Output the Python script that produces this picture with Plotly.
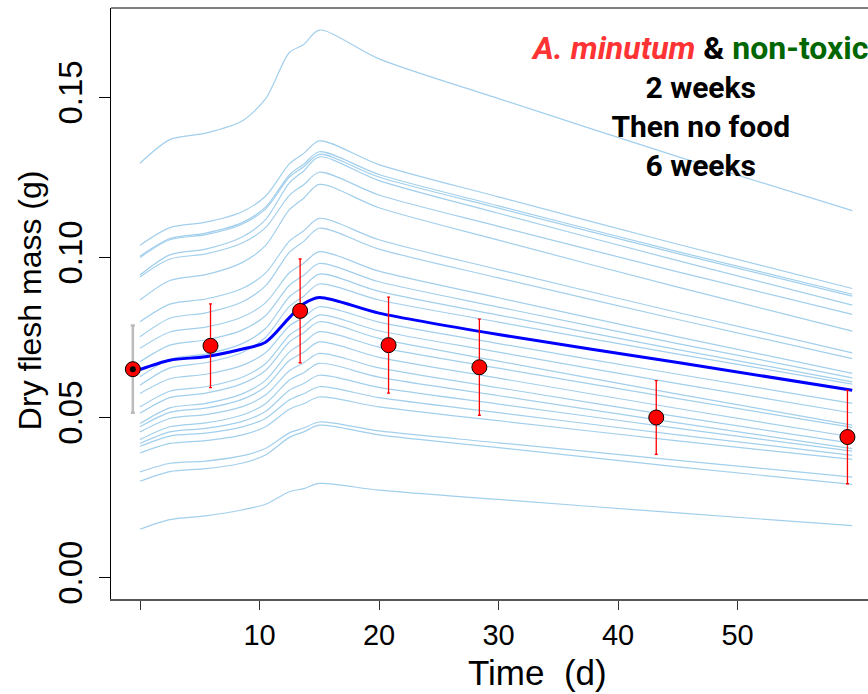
import plotly.graph_objects as go

# ---------------- data ----------------
t_knots = [0, 2.5, 5.5, 8.5, 10.5, 12.5, 13.7, 15, 20, 30, 45, 59.6]

ind01 = [0.1294, 0.1368, 0.1388, 0.1425, 0.1495, 0.1640, 0.1665, 0.1710, 0.1620, 0.1496, 0.1315, 0.1146]
ind02 = [0.1038, 0.1093, 0.1110, 0.1142, 0.1191, 0.1292, 0.1325, 0.1364, 0.1290, 0.1189, 0.1041, 0.0903]
ind03 = [0.1004, 0.1059, 0.1076, 0.1108, 0.1157, 0.1258, 0.1291, 0.1330, 0.1259, 0.1161, 0.1018, 0.0885]
ind04 = [0.1000, 0.1055, 0.1071, 0.1103, 0.1151, 0.1251, 0.1283, 0.1322, 0.1251, 0.1154, 0.1012, 0.0879]
ind05 = [0.0945, 0.1008, 0.1026, 0.1063, 0.1118, 0.1233, 0.1270, 0.1314, 0.1240, 0.1138, 0.0990, 0.0851]
ind06 = [0.0939, 0.0995, 0.1011, 0.1044, 0.1093, 0.1194, 0.1227, 0.1266, 0.1195, 0.1097, 0.0955, 0.0822]
ind07 = [0.0867, 0.0928, 0.0946, 0.0983, 0.1037, 0.1149, 0.1185, 0.1228, 0.1155, 0.1054, 0.0907, 0.0770]
ind08 = [0.0799, 0.0854, 0.0870, 0.0902, 0.0951, 0.1051, 0.1083, 0.1122, 0.1055, 0.0962, 0.0828, 0.0702]
ind09 = [0.0752, 0.0810, 0.0827, 0.0860, 0.0911, 0.1016, 0.1050, 0.1091, 0.1026, 0.0936, 0.0806, 0.0684]
ind10 = [0.0716, 0.0767, 0.0782, 0.0813, 0.0858, 0.0952, 0.0982, 0.1018, 0.0957, 0.0874, 0.0752, 0.0638]
ind11 = [0.0674, 0.0726, 0.0742, 0.0772, 0.0818, 0.0913, 0.0944, 0.0981, 0.0924, 0.0845, 0.0731, 0.0624]
ind12 = [0.0627, 0.0682, 0.0698, 0.0730, 0.0778, 0.0877, 0.0909, 0.0948, 0.0894, 0.0820, 0.0712, 0.0611]
ind13 = [0.0601, 0.0655, 0.0671, 0.0702, 0.0750, 0.0847, 0.0879, 0.0917, 0.0867, 0.0798, 0.0698, 0.0604]
ind14 = [0.0575, 0.0621, 0.0635, 0.0662, 0.0702, 0.0786, 0.0813, 0.0846, 0.0798, 0.0731, 0.0635, 0.0544]
ind15 = [0.0533, 0.0582, 0.0596, 0.0625, 0.0668, 0.0757, 0.0786, 0.0820, 0.0771, 0.0704, 0.0606, 0.0514]
ind16 = [0.0513, 0.0562, 0.0576, 0.0605, 0.0647, 0.0736, 0.0765, 0.0799, 0.0747, 0.0676, 0.0573, 0.0476]
ind17 = [0.0481, 0.0530, 0.0544, 0.0573, 0.0616, 0.0705, 0.0734, 0.0768, 0.0720, 0.0654, 0.0559, 0.0469]
ind18 = [0.0471, 0.0516, 0.0529, 0.0556, 0.0596, 0.0678, 0.0704, 0.0736, 0.0688, 0.0623, 0.0528, 0.0439]
ind19 = [0.0455, 0.0497, 0.0509, 0.0533, 0.0570, 0.0646, 0.0671, 0.0700, 0.0655, 0.0593, 0.0503, 0.0419]
ind20 = [0.0431, 0.0471, 0.0483, 0.0507, 0.0543, 0.0617, 0.0640, 0.0669, 0.0626, 0.0568, 0.0483, 0.0403]
ind21 = [0.0419, 0.0455, 0.0466, 0.0487, 0.0519, 0.0585, 0.0606, 0.0632, 0.0594, 0.0542, 0.0466, 0.0395]
ind22 = [0.0410, 0.0442, 0.0451, 0.0470, 0.0497, 0.0555, 0.0574, 0.0596, 0.0562, 0.0515, 0.0446, 0.0382]
ind23 = [0.0389, 0.0419, 0.0428, 0.0445, 0.0471, 0.0526, 0.0543, 0.0564, 0.0533, 0.0490, 0.0427, 0.0369]
ind24 = [0.0330, 0.0357, 0.0364, 0.0380, 0.0403, 0.0452, 0.0467, 0.0486, 0.0458, 0.0421, 0.0366, 0.0314]
ind25 = [0.0301, 0.0331, 0.0340, 0.0357, 0.0383, 0.0438, 0.0455, 0.0476, 0.0446, 0.0406, 0.0346, 0.0291]
ind26 = [0.0151, 0.0181, 0.0193, 0.0211, 0.0229, 0.0268, 0.0278, 0.0294, 0.0273, 0.0244, 0.0202, 0.0162]

individuals = [ind01, ind02, ind03, ind04, ind05, ind06, ind07, ind08, ind09, ind10, ind11, ind12, ind13,
               ind14, ind15, ind16, ind17, ind18, ind19, ind20, ind21, ind22, ind23, ind24, ind25, ind26]

mean_curve = [0.0650, 0.0679, 0.0690, 0.0713, 0.0735, 0.0812, 0.0855, 0.0875, 0.0826, 0.0759, 0.0672, 0.0585]

obs_t = [-0.6, 5.9, 13.4, 20.8, 28.4, 43.2, 59.2]
obs_mass = [0.0651, 0.0724, 0.0833, 0.0726, 0.0657, 0.0500, 0.0439]
obs_sd = [0.0136, 0.0131, 0.0162, 0.0150, 0.0150, 0.0115, 0.0146]

x_tick_vals = [0, 10, 20, 30, 40, 50]
x_tick_text = ["", "10", "20", "30", "40", "50"]
y_tick_vals = [0.00, 0.05, 0.10, 0.15]
y_tick_text = ["0.00", "0.05", "0.10", "0.15"]

# ---------------- figure ----------------
fig = go.Figure()

for curve in individuals:
    fig.add_trace(go.Scatter(x=t_knots, y=curve, mode="lines",
                             line=dict(color="#A2CFEC", width=1.2, shape="spline", smoothing=0.8),
                             hoverinfo="skip", showlegend=False))

fig.add_trace(go.Scatter(x=t_knots, y=mean_curve, mode="lines",
                         line=dict(color="#0000FF", width=3, shape="spline", smoothing=0.8),
                         showlegend=False))

# first observation (initial) with grey error bar
fig.add_trace(go.Scatter(x=obs_t[:1], y=obs_mass[:1], mode="markers",
                         error_y=dict(type="data", array=obs_sd[:1], color="#BBBBBB", thickness=2.5, width=2),
                         marker=dict(size=15, color="#FF0000", line=dict(color="black", width=1)),
                         showlegend=False))
fig.add_trace(go.Scatter(x=obs_t[:1], y=obs_mass[:1], mode="markers",
                         marker=dict(size=6, color="black"), showlegend=False))

fig.add_trace(go.Scatter(x=obs_t[1:], y=obs_mass[1:], mode="markers",
                         error_y=dict(type="data", array=obs_sd[1:], color="#FF0000", thickness=1.3, width=1.5),
                         marker=dict(size=15, color="#FF0000", line=dict(color="black", width=1)),
                         showlegend=False))

x_font = dict(family="Liberation Sans, Arial, sans-serif", size=29, color="black")
y_font = dict(family="Liberation Sans, Arial, sans-serif", size=33, color="black")

fig.update_layout(
    width=868, height=694,
    margin=dict(l=111, r=0, t=8, b=95),
    paper_bgcolor="white", plot_bgcolor="white",
    xaxis=dict(range=[-2.427, 60.92], showgrid=False, zeroline=False,
               showline=True, linecolor="#555555", linewidth=1.5,
               ticks="outside", ticklen=9, tickcolor="#333333", tickwidth=1,
               tickvals=x_tick_vals, ticktext=x_tick_text, tickfont=x_font,
               ticklabelstandoff=0),
    yaxis=dict(range=[-0.00669, 0.1779], showgrid=False, zeroline=False,
               showline=True, linecolor="black", linewidth=1,
               ticks="outside", ticklen=11, tickcolor="black", tickwidth=1,
               tickvals=y_tick_vals, ticktext=y_tick_text, tickangle=-90, tickfont=y_font,
               ticklabelstandoff=4),
    shapes=[dict(type="line", xref="paper", yref="paper", x0=0, x1=1, y0=1, y1=1,
                 line=dict(color="black", width=1))],
)

fig.add_annotation(xref="paper", yref="paper", x=-0.107, y=0.5057, xanchor="center", yanchor="middle",
                   text="Dry flesh mass (g)", textangle=-90, showarrow=False,
                   font=dict(family="Liberation Sans, Arial, sans-serif", size=32, color="black"))
fig.add_annotation(xref="paper", yref="paper", x=0.564, y=-0.125, xanchor="center", yanchor="middle",
                   text="Time\u00a0\u00a0(d)", showarrow=False,
                   font=dict(family="Liberation Sans, Arial, sans-serif", size=35, color="black"))

fig.add_annotation(xref="x", yref="y", x=46.78, y=0.1474, xanchor="center", yanchor="middle",
                   align="center", showarrow=False,
                   text=('<b><span style="font-size:32px"><span style="color:#FF3333"><i>A. minutum</i></span> &amp; '
                         '<span style="color:#006600">non-toxic</span></span><br>2 weeks<br>'
                         'Then no food<br>6 weeks</b>'),
                   font=dict(family="Roboto, sans-serif", size=30, color="black"))

fig.write_html("out.html")
